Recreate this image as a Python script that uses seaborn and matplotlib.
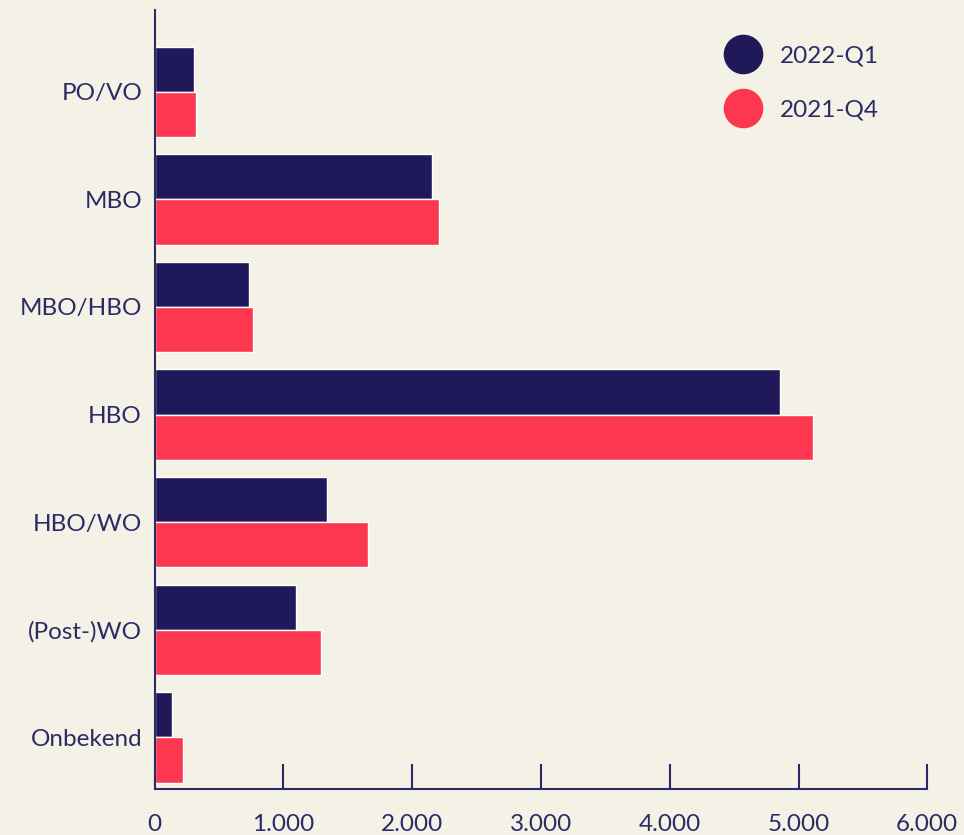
import matplotlib
matplotlib.use("Agg")
import matplotlib.pyplot as plt
from matplotlib.lines import Line2D
import seaborn as sns
import pandas as pd

categories = ["PO/VO", "MBO", "MBO/HBO", "HBO", "HBO/WO", "(Post-)WO", "Onbekend"]
series_names = ["2022-Q1", "2021-Q4"]
values_2022_q1 = [307, 2155, 734, 4854, 1338, 1097, 136]
values_2021_q4 = [322, 2209, 765, 5111, 1657, 1293, 221]
x_ticks = [0, 1000, 2000, 3000, 4000, 5000, 6000]
x_tick_labels = ["0", "1.000", "2.000", "3.000", "4.000", "5.000", "6.000"]

BG = "#f4f1e6"
NAVY = "#1f195a"
RED = "#fc374f"
TXT = "#2e2a66"

df = pd.DataFrame({
    "categorie": categories * 2,
    "periode": [series_names[0]] * len(categories) + [series_names[1]] * len(categories),
    "aantal": values_2022_q1 + values_2021_q4,
})

sns.set_theme(style="white")
plt.rcParams["font.family"] = ["Lato", "DejaVu Sans"]
plt.rcParams["font.weight"] = "normal"

fig = plt.figure(figsize=(9.64, 8.35), dpi=100, facecolor=BG)
ax = fig.add_axes([154.5 / 964, 1 - 789 / 835, (927.3 - 154.5) / 964, (789 - 10) / 835])
ax.set_facecolor(BG)

sns.barplot(data=df, y="categorie", x="aantal", hue="periode", order=categories,
            hue_order=series_names, palette=[NAVY, RED], orient="h",
            width=0.84, edgecolor="white", linewidth=1.0, saturation=1,
            legend=False, ax=ax)

ax.set_xlim(0, 6000)
ax.set_ylim(6.48, -0.76)
ax.set_xticks(x_ticks)
ax.set_xticklabels(x_tick_labels)
ax.set_xlabel("")
ax.set_ylabel("")

for s in ["top", "right"]:
    ax.spines[s].set_visible(False)
for s in ["left", "bottom"]:
    ax.spines[s].set_color(TXT)
    ax.spines[s].set_linewidth(1.5)

ax.tick_params(axis="x", bottom=True, direction="in", length=18, width=1.5, color=TXT,
               labelsize=17.5, labelcolor=TXT, pad=18)
ax.tick_params(axis="y", left=True, direction="in", length=20, width=1.0, color="#b9b6b8",
               labelsize=17.5, labelcolor=TXT, pad=9)
ax.set_axisbelow(True)
for t in ax.xaxis.get_major_ticks():
    t.tick1line.set_zorder(3)

handles = [Line2D([0], [0], marker="o", linestyle="", markersize=27.5,
                  markerfacecolor=c, markeredgecolor=c) for c in [NAVY, RED]]
leg = ax.legend(handles, series_names, loc="upper left",
                bbox_to_anchor=(0.702, 0.982), frameon=False,
                fontsize=17.5, labelspacing=1.33, handletextpad=0.5,
                labelcolor=TXT)

fig.savefig("out.png", dpi=100, facecolor=BG)
